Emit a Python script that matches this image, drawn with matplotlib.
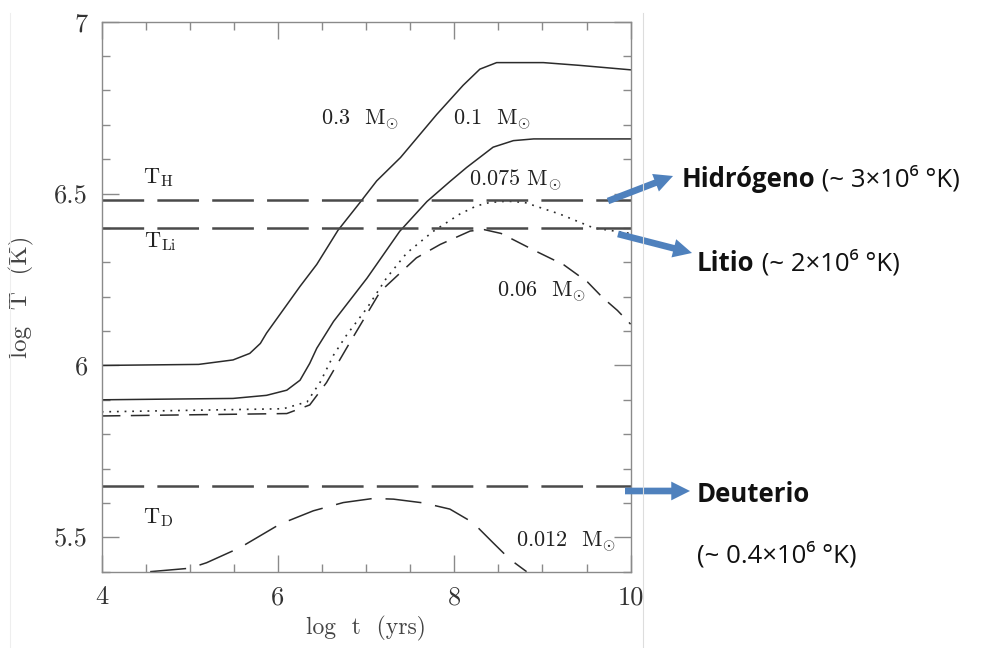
import matplotlib.pyplot as plt

plt.rcParams['font.family'] = 'cmr10'
plt.rcParams['mathtext.fontset'] = 'cm'
plt.rcParams['axes.formatter.use_mathtext'] = True
plt.rcParams['lines.scale_dashes'] = False

# central temperature vs age for several masses
t_03 = [4.0, 5.10, 5.49, 5.68, 5.80, 5.87, 6.06, 6.25, 6.44, 6.68, 6.93, 7.12, 7.39, 7.80, 8.10, 8.29, 8.48, 9.01, 9.42, 10.0]
T_03 = [6.00, 6.003, 6.016, 6.035, 6.064, 6.094, 6.162, 6.23, 6.294, 6.393, 6.474, 6.537, 6.605, 6.73, 6.815, 6.862, 6.881, 6.881, 6.873, 6.86]

t_01 = [4.0, 5.49, 5.87, 6.10, 6.25, 6.36, 6.44, 6.63, 7.01, 7.38, 7.69, 7.95, 8.14, 8.44, 8.67, 8.90, 10.0]
T_01 = [5.90, 5.904, 5.913, 5.928, 5.957, 6.006, 6.05, 6.128, 6.254, 6.39, 6.477, 6.535, 6.576, 6.635, 6.654, 6.659, 6.659]

t_0075 = [4.0, 6.06, 6.33, 6.48, 6.63, 6.78, 7.01, 7.23, 7.46, 7.76, 8.06, 8.25, 8.40, 8.60, 8.80, 9.20, 9.58, 10.0]
T_0075 = [5.865, 5.874, 5.894, 5.952, 6.03, 6.089, 6.167, 6.254, 6.327, 6.39, 6.44, 6.464, 6.474, 6.478, 6.474, 6.44, 6.40, 6.384]

t_006 = [4.0, 6.10, 6.36, 6.55, 6.80, 7.16, 7.57, 7.84, 8.18, 8.34, 8.53, 8.92, 9.24, 9.51, 9.68, 9.85, 10.0]
T_006 = [5.853, 5.86, 5.885, 5.95, 6.06, 6.215, 6.313, 6.352, 6.391, 6.395, 6.384, 6.333, 6.293, 6.243, 6.198, 6.16, 6.12]

t_0012 = [4.55, 5.00, 5.19, 5.57, 6.02, 6.40, 6.74, 7.08, 7.31, 7.65, 7.95, 8.21, 8.44, 8.63, 8.82]
T_0012 = [5.40, 5.41, 5.426, 5.47, 5.538, 5.577, 5.601, 5.613, 5.611, 5.60, 5.582, 5.543, 5.484, 5.436, 5.40]

# burning thresholds
T_H = 6.48
T_Li = 6.40
T_D = 5.65

xticks = [4, 6, 8, 10]
xtick_labels = ['4', '6', '8', '10']
yticks = [5.5, 6, 6.5, 7]
ytick_labels = ['5.5', '6', '6.5', '7']

fig = plt.figure(figsize=(9.88, 6.48), dpi=100)
ax = fig.add_axes([0.1029, 0.1178, 0.5354, 0.8487])

ink = '#2b2b2b'
ax.plot(t_03, T_03, color=ink, lw=1.1)
ax.plot(t_01, T_01, color=ink, lw=1.1)
ax.plot(t_0075, T_0075, color=ink, lw=1.2, dashes=(1.3, 4.2))
ax.plot(t_006, T_006, color=ink, lw=1.1, dashes=(13.5, 7.5))
ax.plot(t_0012, T_0012, color=ink, lw=1.1, dashes=(26, 10))

for level in (T_H, T_Li, T_D):
    ax.plot([4, 10], [level, level], color='#4a4a4a', lw=1.8, dashes=(30, 9.5))

ax.set_xlim(4, 10)
ax.set_ylim(5.40, 7.0)

ax.set_xticks(xticks)
ax.set_xticklabels(xtick_labels)
ax.set_xticks([x / 2 for x in range(8, 21)], minor=True)
ax.set_yticks(yticks)
ax.set_yticklabels(ytick_labels)
ax.set_yticks([y / 10 for y in range(54, 71)], minor=True)
ax.tick_params(which='both', direction='in', top=True, right=True,
               color='#8a8a8a', width=1.0)
ax.tick_params(which='major', length=12, labelsize=19, labelcolor='#333333', pad=10)
ax.tick_params(which='minor', length=6)
for s in ax.spines.values():
    s.set_color('#8a8a8a')
    s.set_linewidth(1.0)

ax.set_xlabel('log  t  (yrs)', fontsize=17, color='#444444', labelpad=5)
ax.set_ylabel('log  T  (K)', fontsize=18, color='#444444', labelpad=14)

lab = dict(fontsize=16, color='#222222', ha='center', va='center')
ax.text(6.93, 6.714, r'0.3  $\mathrm{M}_{\odot}$', **lab)
ax.text(8.43, 6.714, r'0.1  $\mathrm{M}_{\odot}$', **lab)
ax.text(8.69, 6.54, r'0.075 $\mathrm{M}_{\odot}$', **lab)
ax.text(8.99, 6.215, r'0.06  $\mathrm{M}_{\odot}$', **lab)
ax.text(9.27, 5.487, r'0.012  $\mathrm{M}_{\odot}$', **lab)
ax.text(4.64, 6.545, r'$\mathrm{T}_{\mathrm{H}}$', **lab)
ax.text(4.66, 6.36, r'$\mathrm{T}_{\mathrm{Li}}$', **lab)
ax.text(4.64, 5.557, r'$\mathrm{T}_{\mathrm{D}}$', **lab)

# faint frame of the pasted plot
fig.add_artist(plt.Line2D([643 / 988, 643 / 988], [0, 1 - 13 / 648],
                          transform=fig.transFigure, color='#dddddd', lw=0.8))
fig.add_artist(plt.Line2D([10 / 988, 10 / 988], [0, 1 - 13 / 648],
                          transform=fig.transFigure, color='#eeeeee', lw=0.8))

# annotations on the right
blue = '#4f81bd'
arrow = dict(arrowstyle='simple,head_width=0.9,head_length=0.9,tail_width=0.32',
             color=blue, lw=0, mutation_scale=15, shrinkA=0, shrinkB=0)
ff = 'figure fraction'
ax.annotate('', xy=(0.6812, 0.7284), xytext=(0.6154, 0.6898), xycoords=ff, textcoords=ff, arrowprops=arrow)
ax.annotate('', xy=(0.7004, 0.6096), xytext=(0.6255, 0.6389), xycoords=ff, textcoords=ff, arrowprops=arrow)
ax.annotate('', xy=(0.6984, 0.2423), xytext=(0.6326, 0.2423), xycoords=ff, textcoords=ff, arrowprops=arrow)

fs = 18.5
side = dict(family='Open Sans', fontsize=fs, color='#111111', va='baseline')
h = fig.text(0.690, 0.712, 'Hidrógeno', weight='bold', **side)
ax.annotate(' (~ 3×10⁶ °K)', xy=(1, 0), xycoords=h, xytext=(0, 0),
            textcoords='offset points', va='bottom', ha='left',
            family='Open Sans', fontsize=fs, color='#111111')
li = fig.text(0.7055, 0.582, 'Litio', weight='bold', **side)
ax.annotate(' (~ 2×10⁶ °K)', xy=(1, 0), xycoords=li, xytext=(0, 0),
            textcoords='offset points', va='bottom', ha='left',
            family='Open Sans', fontsize=fs, color='#111111')
fig.text(0.7055, 0.226, 'Deuterio', weight='bold', **side)
fig.text(0.7055, 0.132, '(~ 0.4×10⁶ °K)', **side)

fig.savefig('out.png', dpi=100, facecolor='white')
